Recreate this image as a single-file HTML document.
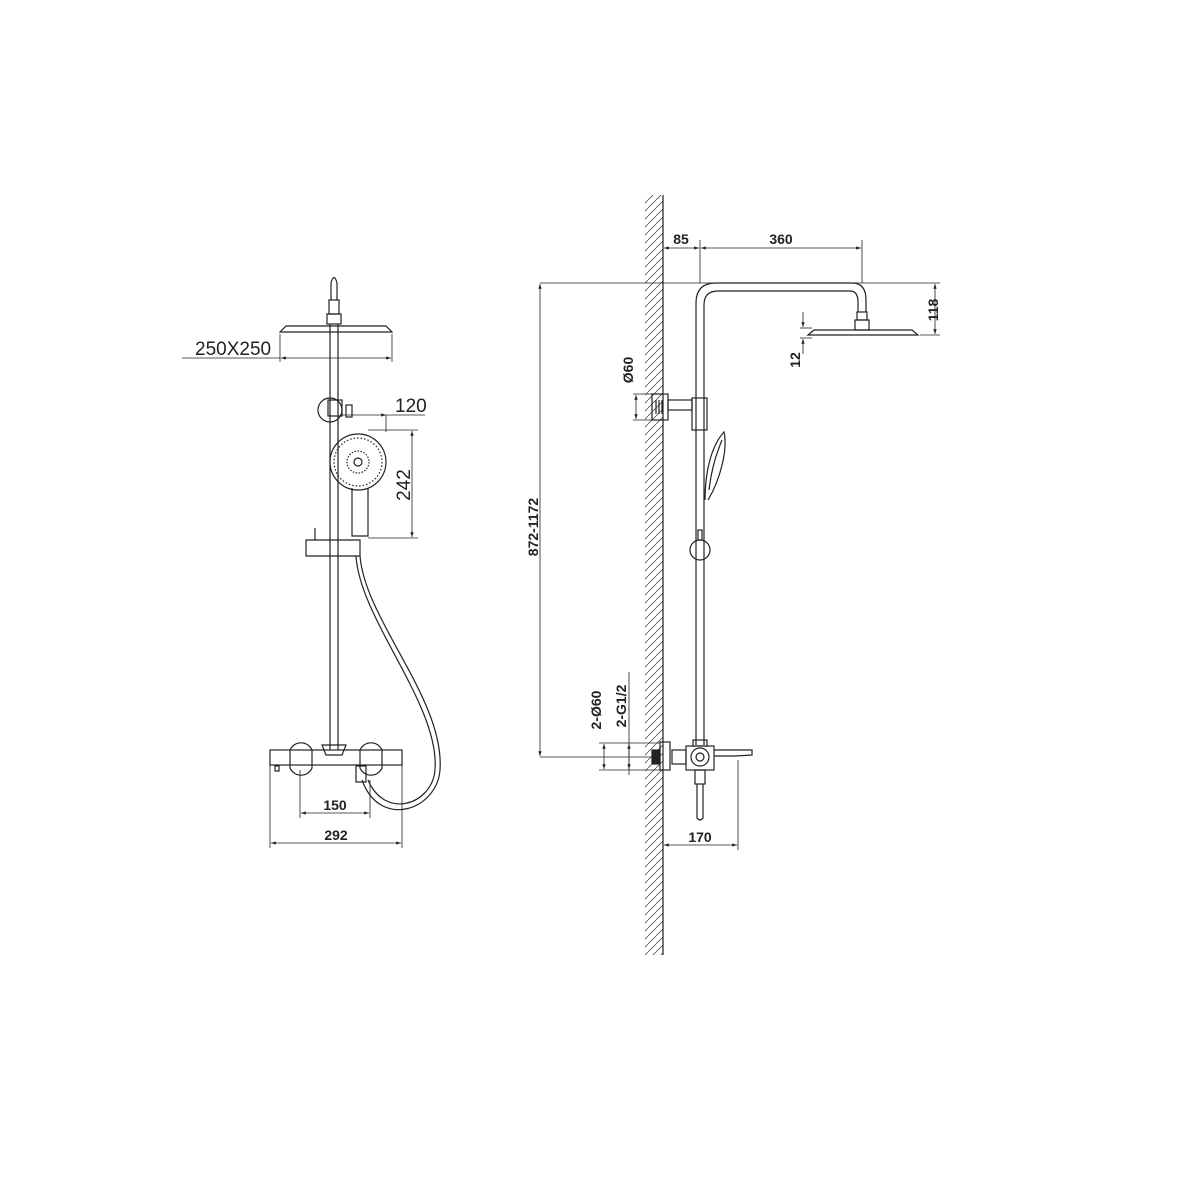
<!DOCTYPE html>
<html><head><style>
body{margin:0;background:#fff}
svg{display:block}
text{font-family:"Liberation Sans",sans-serif;fill:#222}
</style></head><body>
<svg width="1200" height="1200" viewBox="0 0 1200 1200" xmlns="http://www.w3.org/2000/svg">
<defs>
<marker id="a" viewBox="0 0 10 10" refX="10" refY="5" markerWidth="8" markerHeight="6" orient="auto-start-reverse"><path d="M0,1.5 L10,5 L0,8.5z" fill="#222"/></marker>
<pattern id="h" width="8" height="8" patternUnits="userSpaceOnUse"><path d="M0,8 L8,0" stroke="#555" stroke-width="0.8"/></pattern>
</defs>
<g stroke="#222" stroke-width="1.2" fill="none">
<path d="M331,300 L331,283 Q334,272 337,283 L337,300"/>
<rect x="329" y="300" width="10" height="14"/>
<rect x="327" y="314" width="14" height="10"/>
<path d="M280,332 L286,326 L386,326 L392,332 Z"/>
<line x1="330" y1="324" x2="330" y2="750"/><line x1="338" y1="324" x2="338" y2="750"/>
<line x1="280" y1="334" x2="280" y2="362" stroke-width="0.8"/><line x1="392" y1="334" x2="392" y2="362" stroke-width="0.8"/>
<line x1="182" y1="358" x2="280" y2="358" stroke-width="0.8"/>
<line x1="281" y1="358" x2="391" y2="358" stroke-width="0.8" marker-start="url(#a)" marker-end="url(#a)"/>
<circle cx="330" cy="410" r="12"/>
<rect x="328" y="400" width="14" height="16"/>
<rect x="346" y="405" width="6" height="12"/>
<line x1="340" y1="415" x2="386" y2="415" stroke-width="0.8" marker-end="url(#a)"/>
<line x1="386" y1="415" x2="425" y2="415" stroke-width="0.8"/>
<line x1="386" y1="415" x2="386" y2="432" stroke-width="0.8"/>
<circle cx="358" cy="462" r="28"/><circle cx="358" cy="462" r="24" stroke-dasharray="1.5 2"/>
<circle cx="358" cy="462" r="11" stroke-dasharray="1.5 1.5"/><circle cx="358" cy="462" r="4"/>
<path d="M352,488 L352,536 L368,536 L368,488"/>
<line x1="368" y1="430" x2="418" y2="430" stroke-width="0.8"/>
<line x1="368" y1="538" x2="418" y2="538" stroke-width="0.8"/>
<line x1="412" y1="431" x2="412" y2="537" stroke-width="0.8" marker-start="url(#a)" marker-end="url(#a)"/>
<path d="M306,540 L360,540 L360,556 L306,556 Z"/>
<line x1="315" y1="528" x2="315" y2="540"/>
<path d="M360,556 C365,620 445,700 440,770 C437,810 380,830 362,780" />
<path d="M356,556 C360,620 440,705 435,770 C432,805 385,820 368,780" />
<rect x="356" y="766" width="10" height="16"/>
<rect x="270" y="750" width="132" height="15"/>
<path d="M290,750 A12,12 0 0 1 312,750 L312,768 A12,12 0 0 1 290,768Z"/>
<path d="M360,750 A12,12 0 0 1 382,750 L382,768 A12,12 0 0 1 360,768Z"/>
<path d="M322,745 L346,745 L342,755 L326,755Z"/>
<rect x="275" y="766" width="4" height="5"/>
<line x1="300" y1="770" x2="300" y2="818" stroke-width="0.8"/>
<line x1="370" y1="780" x2="370" y2="818" stroke-width="0.8"/>
<line x1="270" y1="765" x2="270" y2="848" stroke-width="0.8"/>
<line x1="402" y1="765" x2="402" y2="848" stroke-width="0.8"/>
<line x1="301" y1="813" x2="369" y2="813" stroke-width="0.8" marker-start="url(#a)" marker-end="url(#a)"/>
<line x1="271" y1="843" x2="401" y2="843" stroke-width="0.8" marker-start="url(#a)" marker-end="url(#a)"/>

<rect x="645" y="195" width="18" height="760" fill="url(#h)" stroke="none"/>
<line x1="663" y1="195" x2="663" y2="955"/>
<path d="M696,745 L696,303 Q696,283 716,283 L852,283 Q866,283 866,300 L866,312"/>
<path d="M704,745 L704,305 Q704,291 718,291 L850,291 Q858,291 858,302 L858,312"/>
<rect x="857" y="312" width="10" height="8"/><rect x="855" y="320" width="14" height="10"/>
<path d="M808,335 L814,330 L912,330 L918,335 Z"/>
<line x1="540" y1="283" x2="940" y2="283" stroke-width="0.8"/>
<line x1="940" y1="335" x2="920" y2="335" stroke-width="0.8"/>
<line x1="700" y1="240" x2="700" y2="283" stroke-width="0.8"/>
<line x1="862" y1="240" x2="862" y2="283" stroke-width="0.8"/>
<line x1="664" y1="248" x2="699" y2="248" stroke-width="0.8" marker-start="url(#a)" marker-end="url(#a)"/>
<line x1="701" y1="248" x2="861" y2="248" stroke-width="0.8" marker-start="url(#a)" marker-end="url(#a)"/>
<line x1="935" y1="284" x2="935" y2="334" stroke-width="0.8" marker-start="url(#a)" marker-end="url(#a)"/>
<line x1="800" y1="328" x2="812" y2="328" stroke-width="0.8"/>
<line x1="800" y1="338" x2="812" y2="338" stroke-width="0.8"/>
<line x1="803" y1="312" x2="803" y2="327" stroke-width="0.8" marker-end="url(#a)"/>
<line x1="803" y1="354" x2="803" y2="339" stroke-width="0.8" marker-end="url(#a)"/>
<rect x="652" y="394" width="16" height="26"/>
<rect x="668" y="400" width="24" height="10"/>
<rect x="692" y="398" width="15" height="32"/>
<line x1="656" y1="400" x2="656" y2="414"/><line x1="659" y1="400" x2="659" y2="414"/><line x1="662" y1="400" x2="662" y2="414"/>
<line x1="633" y1="394" x2="652" y2="394" stroke-width="0.8"/><line x1="633" y1="420" x2="652" y2="420" stroke-width="0.8"/>
<line x1="636" y1="395" x2="636" y2="419" stroke-width="0.8" marker-start="url(#a)" marker-end="url(#a)"/>
<path d="M705,500 C705,470 712,445 724,432 C728,450 720,480 708,500"/>
<path d="M709,490 C712,465 718,450 722,440"/>
<rect x="698" y="530" width="4" height="10"/>
<circle cx="700" cy="550" r="10"/>
<rect x="660" y="742" width="10" height="28"/>
<rect x="652" y="750" width="8" height="14" fill="#222"/>
<rect x="672" y="750" width="14" height="14"/>
<rect x="686" y="746" width="28" height="24"/>
<rect x="693" y="740" width="14" height="6"/>
<circle cx="700" cy="757" r="9"/><circle cx="700" cy="757" r="4"/>
<path d="M714,750 L752,750 L752,755 L735,756 L714,756"/>
<rect x="695" y="770" width="10" height="14"/>
<path d="M697,784 L697,818 Q700,822 703,818 L703,784"/>
<line x1="540" y1="757" x2="652" y2="757" stroke-width="0.8"/>
<line x1="599" y1="743" x2="660" y2="743" stroke-width="0.8"/>
<line x1="599" y1="770" x2="660" y2="770" stroke-width="0.8"/>
<line x1="604" y1="744" x2="604" y2="769" stroke-width="0.8" marker-start="url(#a)" marker-end="url(#a)"/>
<line x1="629" y1="672" x2="629" y2="775" stroke-width="0.8"/>
<line x1="629" y1="744" x2="629" y2="769" stroke-width="0.8" marker-start="url(#a)" marker-end="url(#a)"/>
<line x1="738" y1="760" x2="738" y2="850" stroke-width="0.8"/>
<line x1="664" y1="845" x2="737" y2="845" stroke-width="0.8" marker-start="url(#a)" marker-end="url(#a)"/>
<line x1="540" y1="284" x2="540" y2="756" stroke-width="0.8" marker-start="url(#a)" marker-end="url(#a)"/>
</g>
<g font-size="19">
<text x="195" y="355">250X250</text>
<text x="395" y="412">120</text>
<text transform="translate(410,485) rotate(-90)" text-anchor="middle">242</text>
</g>
<g font-size="14" font-weight="bold">
<text x="335" y="810" text-anchor="middle">150</text>
<text x="336" y="840" text-anchor="middle">292</text>
<text x="681" y="244" text-anchor="middle">85</text>
<text x="781" y="244" text-anchor="middle">360</text>
<text transform="translate(938,310) rotate(-90)" text-anchor="middle">118</text>
<text transform="translate(800,360) rotate(-90)" text-anchor="middle">12</text>
<text transform="translate(633,370) rotate(-90)" text-anchor="middle">Ø60</text>
<text transform="translate(538,527) rotate(-90)" text-anchor="middle">872-1172</text>
<text transform="translate(601,710) rotate(-90)" text-anchor="middle">2-Ø60</text>
<text transform="translate(626,706) rotate(-90)" text-anchor="middle">2-G1/2</text>
<text x="700" y="842" text-anchor="middle">170</text>
</g>
</svg>
</body></html>
